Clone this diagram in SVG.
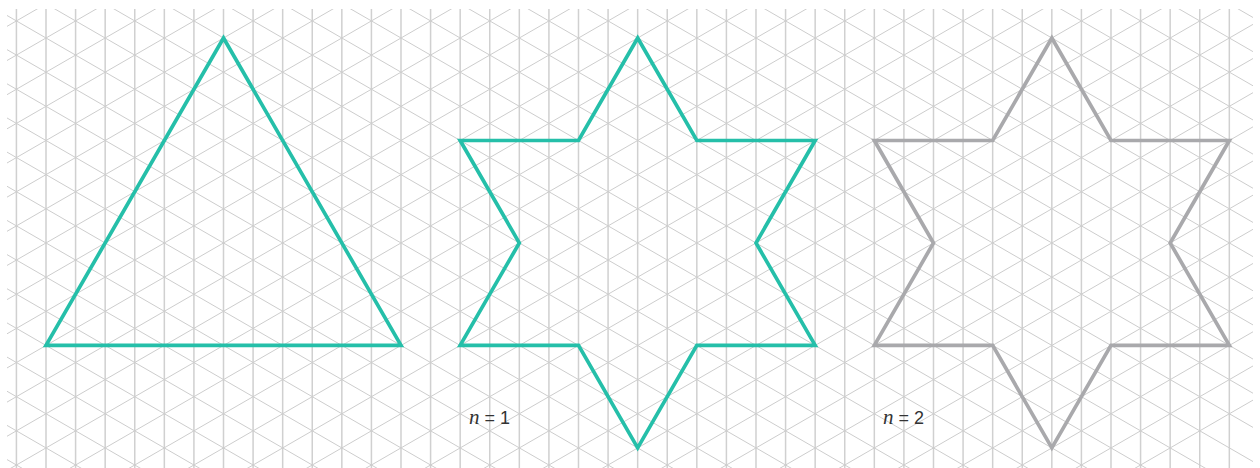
<svg xmlns="http://www.w3.org/2000/svg" width="1260" height="468" viewBox="0 0 1260 468">
<style>
.vgrid{fill:none;stroke:#d0d0d0;stroke-width:1.5}
.dgrid{fill:none;stroke:#cdcdcd;stroke-width:1}
.teal{fill:none;stroke:#25bfa9;stroke-width:3.7;stroke-linejoin:miter}
.grey{fill:none;stroke:#a9a9ac;stroke-width:3.7;stroke-linejoin:miter}
.lbl{font-family:"Liberation Sans",Arial,sans-serif;font-size:18px;fill:#333}
.var{font-family:"Liberation Serif","Times New Roman",serif;font-style:italic;font-size:21px}
</style>
<defs>
<clipPath id="gclip"><rect x="7" y="9" width="1246" height="459"/></clipPath>
<path id="star" d="M637.67 38 L696.83 140.48 L815.17 140.48 L756 242.96 L815.17 345.44 L696.83 345.44 L637.67 447.92 L578.5 345.44 L460.17 345.44 L519.33 242.96 L460.17 140.48 L578.5 140.48 Z"/>
</defs>
<rect width="1260" height="468" fill="#ffffff"/>
<g id="grid" clip-path="url(#gclip)">
<path class="vgrid" d="M16.42 9v459m29.583 -459v459m29.583 -459v459m29.583 -459v459m29.583 -459v459m29.583 -459v459m29.583 -459v459m29.583 -459v459m29.583 -459v459m29.583 -459v459m29.583 -459v459m29.583 -459v459m29.583 -459v459m29.583 -459v459m29.583 -459v459m29.583 -459v459m29.583 -459v459m29.583 -459v459m29.583 -459v459m29.583 -459v459m29.583 -459v459m29.583 -459v459m29.583 -459v459m29.583 -459v459m29.583 -459v459m29.583 -459v459m29.583 -459v459m29.583 -459v459m29.583 -459v459m29.583 -459v459m29.583 -459v459m29.583 -459v459m29.583 -459v459m29.583 -459v459m29.583 -459v459m29.583 -459v459m29.583 -459v459m29.583 -459v459m29.583 -459v459m29.583 -459v459m29.583 -459v459m29.583 -459v459"/>
<path class="dgrid" d="M7 -701.88l1246 719.37m-1246 -685.21l1246 719.37m-1246 -685.21l1246 719.37m-1246 -685.21l1246 719.37m-1246 -685.21l1246 719.37m-1246 -685.21l1246 719.37m-1246 -685.21l1246 719.37m-1246 -685.21l1246 719.37m-1246 -685.21l1246 719.37m-1246 -685.21l1246 719.37m-1246 -685.21l1246 719.37m-1246 -685.21l1246 719.37m-1246 -685.21l1246 719.37m-1246 -685.21l1246 719.37m-1246 -685.21l1246 719.37m-1246 -685.21l1246 719.37m-1246 -685.21l1246 719.37m-1246 -685.21l1246 719.37m-1246 -685.21l1246 719.37m-1246 -685.21l1246 719.37m-1246 -685.21l1246 719.37m-1246 -685.21l1246 719.37m-1246 -685.21l1246 719.37m-1246 -685.21l1246 719.37m-1246 -685.21l1246 719.37m-1246 -685.21l1246 719.37m-1246 -685.21l1246 719.37m-1246 -685.21l1246 719.37m-1246 -685.21l1246 719.37m-1246 -685.21l1246 719.37m-1246 -685.21l1246 719.37m-1246 -685.21l1246 719.37m-1246 -685.21l1246 719.37m-1246 -685.21l1246 719.37m-1246 -685.21l1246 719.37"/>
<path class="dgrid" d="M7 -7.8l1246 -719.37m-1246 753.53l1246 -719.37m-1246 753.53l1246 -719.37m-1246 753.53l1246 -719.37m-1246 753.53l1246 -719.37m-1246 753.53l1246 -719.37m-1246 753.53l1246 -719.37m-1246 753.53l1246 -719.37m-1246 753.53l1246 -719.37m-1246 753.53l1246 -719.37m-1246 753.53l1246 -719.37m-1246 753.53l1246 -719.37m-1246 753.53l1246 -719.37m-1246 753.53l1246 -719.37m-1246 753.53l1246 -719.37m-1246 753.53l1246 -719.37m-1246 753.53l1246 -719.37m-1246 753.53l1246 -719.37m-1246 753.53l1246 -719.37m-1246 753.53l1246 -719.37m-1246 753.53l1246 -719.37m-1246 753.53l1246 -719.37m-1246 753.53l1246 -719.37m-1246 753.53l1246 -719.37m-1246 753.53l1246 -719.37m-1246 753.53l1246 -719.37m-1246 753.53l1246 -719.37m-1246 753.53l1246 -719.37m-1246 753.53l1246 -719.37m-1246 753.53l1246 -719.37m-1246 753.53l1246 -719.37m-1246 753.53l1246 -719.37m-1246 753.53l1246 -719.37m-1246 753.53l1246 -719.37"/>
</g>
<g id="triangle">
<path class="teal" d="M223.5 38 L401 345.44 L46 345.44 Z"/>
</g>
<g id="star-n1">
<use href="#star" class="teal"/>
<text class="lbl" x="469" y="424"><tspan class="var">n</tspan> = 1</text>
</g>
<g id="star-n2">
<use href="#star" class="grey" transform="translate(414.17 0)"/>
<text class="lbl" x="883" y="424"><tspan class="var">n</tspan> = 2</text>
</g>
</svg>
